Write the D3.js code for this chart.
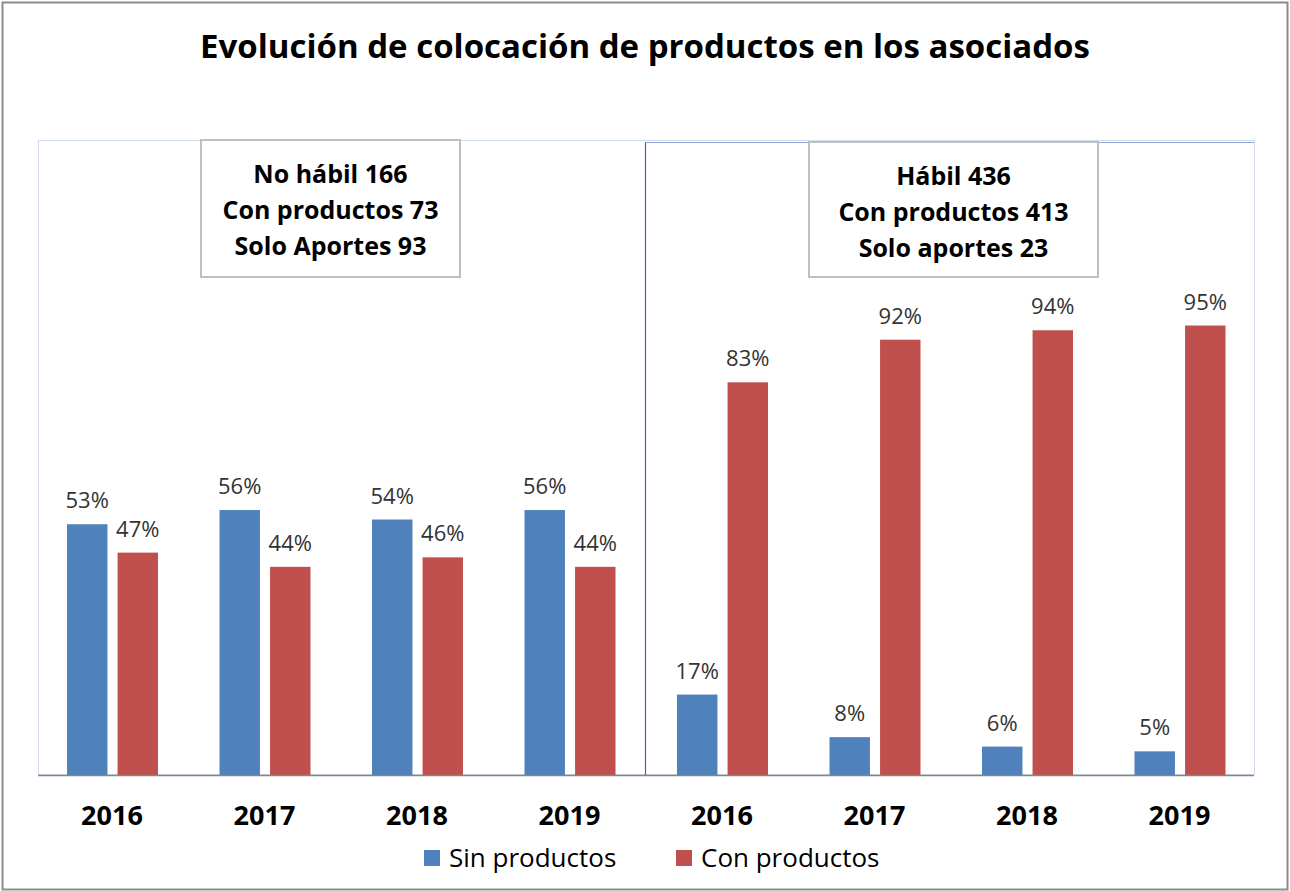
<!DOCTYPE html>
<html>
<head>
<meta charset="utf-8">
<script src="https://cdn.jsdelivr.net/npm/d3@7"></script>
<style>
  body { margin: 0; background: #fff; }
  text { font-family: "Open Sans", sans-serif; }
</style>
</head>
<body>
<svg id="svg" width="1290" height="891"></svg>
<script>
// Data
const title = "Evolución de colocación de productos en los asociados";
const years = ["2016", "2017", "2018", "2019"];
const panels = ["No hábil", "Hábil"];
const series = ["Sin productos", "Con productos"];
const sinProductos = [[53, 56, 54, 56], [17, 8, 6, 5]];
const conProductos = [[47, 44, 46, 44], [83, 92, 94, 95]];
const boxLines = [
  ["No hábil 166", "Con productos 73", "Solo Aportes 93"],
  ["Hábil 436", "Con productos 413", "Solo aportes 23"]
];

const colors = { "Sin productos": "#4F81BD", "Con productos": "#C0504D" };

const attr = {
  width: 1290,
  height: 891,
  plot: { left: 38, right: 1254, top: 141, bottom: 775 }
};

const svg = d3.select("svg#svg");

var translate = function(a, b) {
  return "translate(" + a + ", " + b + ")";
};

// outer frame
svg.append("rect")
  .attr("x", 2.5).attr("y", 2.5)
  .attr("width", attr.width - 5).attr("height", attr.height - 4)
  .attr("fill", "#fff")
  .attr("stroke", "#8c8c8c")
  .attr("stroke-width", 2);

// title
svg.append("text")
  .attr("x", 645).attr("y", 58)
  .attr("text-anchor", "middle")
  .style("font-size", "33px")
  .style("font-weight", "bold")
  .attr("fill", "#000")
  .text(title);

// scales (groups run slightly past the plot area on the right, like the original)
const xPanel = d3.scaleBand()
  .domain(panels)
  .range([attr.plot.left, 1258]);

const xYear = d3.scaleBand()
  .domain(years)
  .range([0, xPanel.bandwidth()]);

const xSeries = d3.scaleBand()
  .domain(series)
  .range([29, 120])
  .paddingInner(0.2);

const y = d3.scaleLinear()
  .domain([0, 1.34])
  .range([attr.plot.bottom, attr.plot.top]);

// plot area border (dotted, Excel style)
svg.append("rect")
  .attr("x", attr.plot.left + 0.5).attr("y", attr.plot.top - 0.5)
  .attr("width", attr.plot.right - attr.plot.left)
  .attr("height", attr.plot.bottom - attr.plot.top)
  .attr("fill", "none")
  .attr("stroke", "#9fb4d6")
  .attr("stroke-dasharray", "1,1");

// panel divider
const divX = 645.5;
svg.append("line")
  .attr("x1", divX).attr("x2", divX)
  .attr("y1", attr.plot.top + 1).attr("y2", attr.plot.bottom)
  .attr("stroke", "#4a66a0")
  .attr("stroke-width", 1.2);
svg.append("line")
  .attr("x1", divX).attr("x2", attr.plot.right)
  .attr("y1", attr.plot.top + 1.5).attr("y2", attr.plot.top + 1.5)
  .attr("stroke", "#8ea4c8")
  .attr("stroke-width", 1);

// build rows
const rows = [];
panels.forEach(function(p, pi) {
  years.forEach(function(yr, yi) {
    rows.push({ panel: p, year: yr, serie: "Sin productos", value: sinProductos[pi][yi] });
    rows.push({ panel: p, year: yr, serie: "Con productos", value: conProductos[pi][yi] });
  });
});

const barX = d => xPanel(d.panel) + xYear(d.year) + xSeries(d.serie);

// bars
svg.append("g").selectAll("rect")
  .data(rows)
  .enter()
  .append("rect")
  .attr("x", barX)
  .attr("y", d => y(d.value / 100))
  .attr("width", xSeries.bandwidth())
  .attr("height", d => attr.plot.bottom - y(d.value / 100))
  .attr("fill", d => colors[d.serie]);

// value labels
svg.append("g").selectAll("text")
  .data(rows)
  .enter()
  .append("text")
  .attr("x", d => barX(d) + xSeries.bandwidth() / 2)
  .attr("y", d => y(d.value / 100) - 16)
  .attr("text-anchor", "middle")
  .style("font-size", "22px")
  .attr("fill", "#333")
  .text(d => d.value + "%");

// baseline
svg.append("line")
  .attr("x1", attr.plot.left).attr("x2", attr.plot.right)
  .attr("y1", attr.plot.bottom + 0.5).attr("y2", attr.plot.bottom + 0.5)
  .attr("stroke", "#868686")
  .attr("stroke-width", 1.5);

// year labels
panels.forEach(function(p) {
  svg.append("g").selectAll("text")
    .data(years)
    .enter()
    .append("text")
    .attr("x", d => xPanel(p) + xYear(d) + 74)
    .attr("y", 825)
    .attr("text-anchor", "middle")
    .style("font-size", "27px")
    .style("font-weight", "bold")
    .attr("fill", "#000")
    .text(d => d);
});

// info boxes
const boxes = [
  { x: 201, y: 140, w: 259, h: 137 },
  { x: 809, y: 142, w: 289, h: 135 }
];
boxes.forEach(function(b, i) {
  let g = svg.append("g").attr("transform", translate(b.x, b.y));
  g.append("rect")
    .attr("width", b.w).attr("height", b.h)
    .attr("fill", "#fff")
    .attr("stroke", "#bfbfbf")
    .attr("stroke-width", 2);
  g.selectAll("text")
    .data(boxLines[i])
    .enter()
    .append("text")
    .attr("x", b.w / 2)
    .attr("y", (d, j) => 43 + j * 36)
    .attr("text-anchor", "middle")
    .style("font-size", "25px")
    .style("font-weight", "bold")
    .attr("fill", "#000")
    .text(d => d);
});

// legend
const legendX = [424, 676];
const legend = svg.append("g").selectAll("g")
  .data(series)
  .enter()
  .append("g")
  .attr("transform", (d, i) => translate(legendX[i], 850));

legend.append("rect")
  .attr("width", 16).attr("height", 16)
  .attr("fill", d => colors[d]);

legend.append("text")
  .attr("x", 25).attr("y", 17)
  .style("font-size", "26px")
  .attr("fill", "#000")
  .text(d => d);
</script>
</body>
</html>
